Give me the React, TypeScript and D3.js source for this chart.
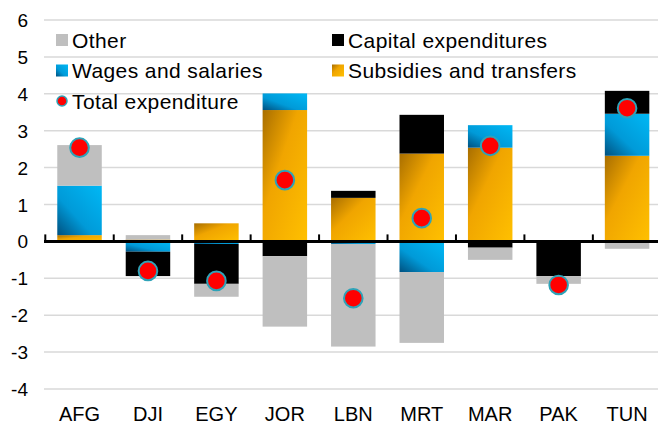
import React, { useRef, useEffect } from "react";
import * as d3 from "d3";

// Datos por país (puntos porcentuales)
const countries = ["AFG", "DJI", "EGY", "JOR", "LBN", "MRT", "MAR", "PAK", "TUN"];
const subsidies = [0.17, 0.05, 0.49, 3.56, 1.18, 2.38, 2.54, 0, 2.32];
const wages = [1.34, -0.28, -0.07, 0.45, -0.07, -0.83, 0.61, 0, 1.14];
const capital = [0, -0.66, -1.08, -0.4, 0.19, 1.05, -0.17, -0.94, 0.62];
const other = [1.1, 0.12, -0.35, -1.91, -2.78, -1.92, -0.33, -0.21, -0.2];
const total = [2.54, -0.8, -1.07, 1.66, -1.54, 0.63, 2.59, -1.18, 3.61];
const yTicks = [-4, -3, -2, -1, 0, 1, 2, 3, 4, 5, 6];

const FONT = "'Liberation Sans', Arial, sans-serif";

const App = () => {
  const ref = useRef<SVGSVGElement>(null);

  useEffect(() => {
    const container = ref.current;
    if (!container) return;
    const width = 658;
    d3.select(container).selectChildren().remove();
    const svg = d3.select(container);

    // Gradientes
    const defs = svg.append("defs");
    const blue = defs
      .append("linearGradient")
      .attr("id", "gBlue")
      .attr("x1", 0)
      .attr("y1", 1)
      .attr("x2", 1)
      .attr("y2", 0);
    blue.append("stop").attr("offset", 0).attr("stop-color", "#00507f");
    blue.append("stop").attr("offset", 0.4).attr("stop-color", "#009ad8");
    blue.append("stop").attr("offset", 1).attr("stop-color", "#00b8f5");
    const orange = defs
      .append("linearGradient")
      .attr("id", "gOrange")
      .attr("x1", 0)
      .attr("y1", 0)
      .attr("x2", 1)
      .attr("y2", 1);
    orange.append("stop").attr("offset", 0).attr("stop-color", "#a86e00");
    orange.append("stop").attr("offset", 0.4).attr("stop-color", "#f0a500");
    orange.append("stop").attr("offset", 1).attr("stop-color", "#ffc000");

    const keys = ["subsidies", "wages", "capital", "other"];
    const colors: Record<string, string> = {
      subsidies: "url(#gOrange)",
      wages: "url(#gBlue)",
      capital: "#000000",
      other: "#bfbfbf",
    };
    const rows = countries.map((c, i) => ({
      country: c,
      subsidies: subsidies[i],
      wages: wages[i],
      capital: capital[i],
      other: other[i],
      total: total[i],
    }));

    // Escalas
    const x = d3
      .scaleBand()
      .domain(countries)
      .range([45.3, 661.3])
      .paddingInner(0.35)
      .paddingOuter(0.175);
    const y = d3.scaleLinear().domain([-4, 6]).range([389, 20]);

    // Rejilla
    svg
      .append("g")
      .selectAll("line")
      .data(yTicks)
      .join("line")
      .attr("x1", 44)
      .attr("x2", width)
      .attr("y1", (d) => y(d))
      .attr("y2", (d) => y(d))
      .attr("stroke", "#d9d9d9")
      .attr("stroke-width", 1.5);

    // Etiquetas eje Y
    svg
      .append("g")
      .selectAll("text")
      .data(yTicks)
      .join("text")
      .attr("x", 28)
      .attr("y", (d) => y(d) + 7)
      .attr("text-anchor", "end")
      .style("font-family", FONT)
      .style("font-size", "19px")
      .attr("fill", "#000")
      .text((d) => String(d));

    // Barras apiladas
    const series = d3
      .stack<any>()
      .keys(keys)
      .offset(d3.stackOffsetDiverging)(rows);
    svg
      .append("g")
      .selectAll("g")
      .data(series)
      .join("g")
      .attr("fill", (s) => colors[s.key])
      .selectAll("rect")
      .data((s) => s)
      .join("rect")
      .attr("x", (d: any) => x(d.data.country)!)
      .attr("width", x.bandwidth())
      .attr("y", (d) => y(Math.max(d[0], d[1])))
      .attr("height", (d) => Math.abs(y(d[0]) - y(d[1])));

    // Eje cero
    svg
      .append("line")
      .attr("x1", 44)
      .attr("x2", width)
      .attr("y1", y(0))
      .attr("y2", y(0))
      .attr("stroke", "#000")
      .attr("stroke-width", 3);
    const bounds = countries.map((c) => x(c)! - (x.step() - x.bandwidth()) / 2);
    svg
      .append("g")
      .selectAll("line")
      .data(bounds)
      .join("line")
      .attr("x1", (d) => d)
      .attr("x2", (d) => d)
      .attr("y1", y(0))
      .attr("y2", y(0) - 7)
      .attr("stroke", "#000")
      .attr("stroke-width", 2);

    // Etiquetas eje X
    svg
      .append("g")
      .selectAll("text")
      .data(countries)
      .join("text")
      .attr("x", (d) => x(d)! + x.bandwidth() / 2)
      .attr("y", 421)
      .attr("text-anchor", "middle")
      .style("font-family", FONT)
      .style("font-size", "20px")
      .attr("fill", "#000")
      .text((d) => d);

    // Puntos de gasto total
    svg
      .append("g")
      .selectAll("circle")
      .data(rows)
      .join("circle")
      .attr("cx", (d) => x(d.country)! + x.bandwidth() / 2)
      .attr("cy", (d) => y(d.total))
      .attr("r", 9.3)
      .attr("fill", "#ff0000")
      .attr("stroke", "#2ea3b8")
      .attr("stroke-width", 2);

    // Leyenda
    const legend = [
      { label: "Other", fill: colors.other, col: 0, row: 0, dot: false },
      { label: "Capital expenditures", fill: colors.capital, col: 1, row: 0, dot: false },
      { label: "Wages and salaries", fill: colors.wages, col: 0, row: 1, dot: false },
      { label: "Subsidies and transfers", fill: colors.subsidies, col: 1, row: 1, dot: false },
      { label: "Total expenditure", fill: "#ff0000", col: 0, row: 2, dot: true },
    ];
    const colX = [56, 332];
    const rowY = [40, 70.5, 101];
    const lg = svg.append("g");
    legend.forEach((l) => {
      const cx = colX[l.col];
      const cy = rowY[l.row];
      if (l.dot) {
        lg.append("circle")
          .attr("cx", cx + 6)
          .attr("cy", cy)
          .attr("r", 5)
          .attr("fill", "#ff0000")
          .attr("stroke", "#2ea3b8")
          .attr("stroke-width", 1.5);
      } else {
        lg.append("rect")
          .attr("x", cx)
          .attr("y", cy - 6)
          .attr("width", 12)
          .attr("height", 12)
          .attr("fill", l.fill);
      }
      lg.append("text")
        .attr("x", cx + 16)
        .attr("y", cy + 7.5)
        .style("font-family", FONT)
        .style("font-size", "21px")
        .style("letter-spacing", "0.4px")
        .attr("fill", "#000")
        .text(l.label);
    });
  }, []);

  return (
    <svg
      ref={ref}
      width={658}
      height={425}
      style={{ position: "absolute", left: 0, top: 0, background: "#fff" }}
    />
  );
};

export default App;
